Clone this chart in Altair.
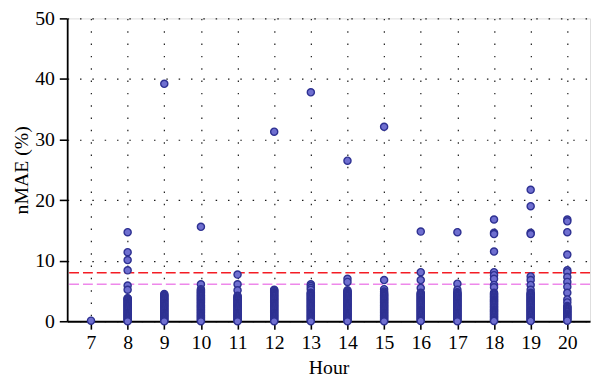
import altair as alt
import pandas as pd

hours = [7, 8, 9, 10, 11, 12, 13, 14, 15, 16, 17, 18, 19, 20]
h7 = [0.1]
h8 = [14.7, 11.4, 10.1, 8.4, 5.9, 5.2, 3.8, 3.75, 3.6, 3.45, 3.3, 3.15, 3.0, 2.85, 2.7, 2.55, 2.4, 2.25, 2.1, 1.95, 1.8, 1.65, 1.5, 1.35, 1.2, 1.05, 0.9, 0.75, 0.6, 0.45, 0.3, 0.15, 0.0]
h9 = [39.2, 4.5, 4.35, 4.2, 4.05, 3.9, 3.75, 3.6, 3.45, 3.3, 3.15, 3.0, 2.85, 2.7, 2.55, 2.4, 2.25, 2.1, 1.95, 1.8, 1.65, 1.5, 1.35, 1.2, 1.05, 0.9, 0.75, 0.6, 0.45, 0.3, 0.15, 0.0]
h10 = [15.6, 6.1, 5.3, 5.1, 4.95, 4.8, 4.65, 4.5, 4.35, 4.2, 4.05, 3.9, 3.75, 3.6, 3.45, 3.3, 3.15, 3.0, 2.85, 2.7, 2.55, 2.4, 2.25, 2.1, 1.95, 1.8, 1.65, 1.5, 1.35, 1.2, 1.05, 0.9, 0.75, 0.6, 0.45, 0.3, 0.15, 0.0]
h11 = [7.7, 6.1, 5.1, 4.2, 4.05, 3.9, 3.75, 3.6, 3.45, 3.3, 3.15, 3.0, 2.85, 2.7, 2.55, 2.4, 2.25, 2.1, 1.95, 1.8, 1.65, 1.5, 1.35, 1.2, 1.05, 0.9, 0.75, 0.6, 0.45, 0.3, 0.15, 0.0]
h12 = [31.3, 5.2, 5.1, 4.95, 4.8, 4.65, 4.5, 4.35, 4.2, 4.05, 3.9, 3.75, 3.6, 3.45, 3.3, 3.15, 3.0, 2.85, 2.7, 2.55, 2.4, 2.25, 2.1, 1.95, 1.8, 1.65, 1.5, 1.35, 1.2, 1.05, 0.9, 0.75, 0.6, 0.45, 0.3, 0.15, 0.0]
h13 = [37.8, 6.1, 5.8, 5.5, 5.2, 4.7, 4.65, 4.5, 4.35, 4.2, 4.05, 3.9, 3.75, 3.6, 3.45, 3.3, 3.15, 3.0, 2.85, 2.7, 2.55, 2.4, 2.25, 2.1, 1.95, 1.8, 1.65, 1.5, 1.35, 1.2, 1.05, 0.9, 0.75, 0.6, 0.45, 0.3, 0.15, 0.0]
h14 = [26.5, 7.0, 6.5, 5.1, 4.95, 4.8, 4.65, 4.5, 4.35, 4.2, 4.05, 3.9, 3.75, 3.6, 3.45, 3.3, 3.15, 3.0, 2.85, 2.7, 2.55, 2.4, 2.25, 2.1, 1.95, 1.8, 1.65, 1.5, 1.35, 1.2, 1.05, 0.9, 0.75, 0.6, 0.45, 0.3, 0.15, 0.0]
h15 = [32.1, 6.8, 5.3, 4.9, 4.65, 4.5, 4.35, 4.2, 4.05, 3.9, 3.75, 3.6, 3.45, 3.3, 3.15, 3.0, 2.85, 2.7, 2.55, 2.4, 2.25, 2.1, 1.95, 1.8, 1.65, 1.5, 1.35, 1.2, 1.05, 0.9, 0.75, 0.6, 0.45, 0.3, 0.15, 0.0]
h16 = [14.8, 8.1, 6.8, 5.5, 4.7, 4.55, 4.4, 4.25, 4.1, 3.95, 3.8, 3.65, 3.5, 3.35, 3.2, 3.05, 2.9, 2.75, 2.6, 2.45, 2.3, 2.15, 2.0, 1.85, 1.7, 1.55, 1.4, 1.25, 1.1, 0.95, 0.8, 0.65, 0.5, 0.35, 0.2, 0.05]
h17 = [14.7, 6.2, 5.2, 4.8, 4.65, 4.5, 4.35, 4.2, 4.05, 3.9, 3.75, 3.6, 3.45, 3.3, 3.15, 3.0, 2.85, 2.7, 2.55, 2.4, 2.25, 2.1, 1.95, 1.8, 1.65, 1.5, 1.35, 1.2, 1.05, 0.9, 0.75, 0.6, 0.45, 0.3, 0.15, 0.0]
h18 = [16.8, 14.6, 14.4, 11.5, 8.1, 7.6, 7.0, 6.0, 5.6, 4.7, 4.55, 4.4, 4.25, 4.1, 3.95, 3.8, 3.65, 3.5, 3.35, 3.2, 3.05, 2.9, 2.75, 2.6, 2.45, 2.3, 2.15, 2.0, 1.85, 1.7, 1.55, 1.4, 1.25, 1.1, 0.95, 0.8, 0.65, 0.5, 0.35, 0.2, 0.05]
h19 = [21.7, 19.0, 14.6, 14.4, 7.4, 6.8, 6.0, 5.2, 4.7, 4.55, 4.4, 4.25, 4.1, 3.95, 3.8, 3.65, 3.5, 3.35, 3.2, 3.05, 2.9, 2.75, 2.6, 2.45, 2.3, 2.15, 2.0, 1.85, 1.7, 1.55, 1.4, 1.25, 1.1, 0.95, 0.8, 0.65, 0.5, 0.35, 0.2, 0.05]
h20 = [16.8, 16.5, 14.7, 11.0, 8.4, 8.1, 7.3, 6.5, 5.7, 4.7, 3.6, 3.1, 2.5, 2.35, 2.2, 2.05, 1.9, 1.75, 1.6, 1.45, 1.3, 1.15, 1.0, 0.85, 0.7, 0.55, 0.4, 0.25, 0.1]
red_level = 8.0
pink_level = 6.1

series = [h7, h8, h9, h10, h11, h12, h13, h14, h15, h16, h17, h18, h19, h20]
rows = [{"Hour": h, "nMAE": v} for h, vals in zip(hours, series) for v in vals]
df = pd.DataFrame(rows)
lines = pd.DataFrame({"level": [red_level, pink_level], "kind": ["red", "pink"]})

FONT = "Liberation Serif, Times New Roman, DejaVu Serif, serif"
xscale = alt.Scale(domain=[6.35, 20.62], nice=False, zero=False)
yscale = alt.Scale(domain=[0, 50], nice=False)

points = alt.Chart(df).mark_point(
    filled=True, shape="circle", size=52, fill="#6f6fd0", stroke="#2e3192",
    strokeWidth=1.4, opacity=1
).encode(
    x=alt.X("Hour:Q", scale=xscale, title="Hour",
            axis=alt.Axis(values=hours, format="d")),
    y=alt.Y("nMAE:Q", scale=yscale, title="nMAE (%)",
            axis=alt.Axis(values=[0, 10, 20, 30, 40, 50])),
)

hlines = alt.Chart(lines).mark_rule(strokeDash=[10, 4], strokeWidth=1.6).encode(
    y=alt.Y("level:Q", scale=yscale),
    color=alt.Color("kind:N", scale=alt.Scale(domain=["red", "pink"], range=["#f41c24", "#ee88ea"]),
                    legend=None),
)

chart = alt.layer(hlines, points).properties(
    width=530, height=307,
    autosize=alt.AutoSizeParams(type="none"),
    padding={"left": 60, "top": 8, "right": 2, "bottom": 56},
).configure_view(stroke="#000", strokeWidth=1.8).configure(background="white").configure_axis(
    grid=True, gridDash=[1.5, 11], gridColor="#000", gridOpacity=0.9, gridWidth=1.2,
    tickSize=8, tickWidth=1.6, tickColor="#000",
    domainColor="#000", domainWidth=1.8,
    labelFont=FONT, labelFontSize=20, labelColor="#000",
    titleFont=FONT, titleFontSize=20, titleFontWeight="normal", titleColor="#000",
).configure_axisX(labelPadding=4, titlePadding=5, titleAnchor="middle").configure_axisY(labelPadding=5, titlePadding=3)

chart.save("out.html", embed_options={"renderer": "svg", "actions": False})
